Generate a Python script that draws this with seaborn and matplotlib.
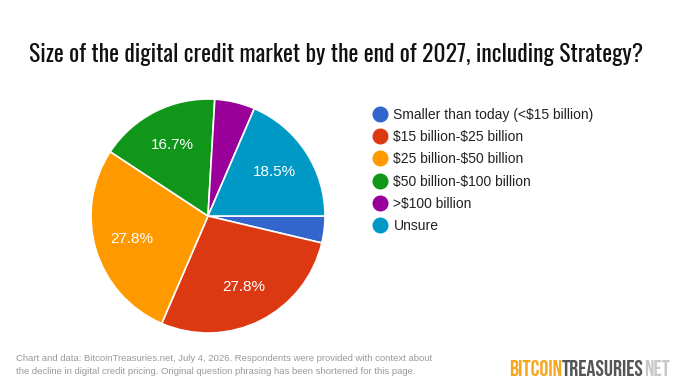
import matplotlib
matplotlib.use("Agg")
import matplotlib.pyplot as plt
from matplotlib.lines import Line2D
import seaborn as sns

# ==== DATA ====
categories = [
    "Smaller than today (<$15 billion)",
    "$15 billion-$25 billion",
    "$25 billion-$50 billion",
    "$50 billion-$100 billion",
    ">$100 billion",
    "Unsure",
]
responses = [2, 15, 15, 9, 3, 10]
palette = ["#3366cc", "#dc3912", "#ff9900", "#109618", "#990099", "#0099c6"]

title = "Size of the digital credit market by the end of 2027, including Strategy?"
footer = ("Chart and data: BitcoinTreasuries.net, July 4, 2026. Respondents were provided with context about\n"
          "the decline in digital credit pricing. Original question phrasing has been shortened for this page.")

# ==== STYLE ====
sns.set_theme(style="white")
plt.rcParams["font.family"] = ["Liberation Sans", "DejaVu Sans"]
plt.rcParams["text.parse_math"] = False
colors = sns.color_palette(palette)

W, H = 680, 383
fig = plt.figure(figsize=(W / 100, H / 100), dpi=100)
fig.patch.set_facecolor("white")

# ==== PIE ====
cx, cy, r = 208, 216, 117
ax = fig.add_axes([(cx - r) / W, (H - cy - r) / H, 2 * r / W, 2 * r / H])

def pct_label(p):
    return f"{p:.1f}%" if p >= 10 else ""

wedges, texts, autotexts = ax.pie(
    responses, colors=colors, startangle=0, counterclock=False,
    autopct=pct_label, pctdistance=0.68,
    wedgeprops=dict(edgecolor="white", linewidth=1.2),
    textprops=dict(color="white", fontsize=11),
)
ax.set_xlim(-1, 1)
ax.set_ylim(-1, 1)
ax.set_aspect("equal")
ax.axis("off")

# ==== LEGEND ====
handles = [Line2D([0], [0], marker="o", linestyle="", markersize=10.5,
                  markerfacecolor=c, markeredgecolor=c) for c in colors]
fig.legend(handles, categories, loc="upper left",
           bbox_to_anchor=(367 / W, 1 - 102 / H), frameon=False,
           fontsize=10, handletextpad=0.5, labelspacing=0.6,
           handlelength=1.0, borderaxespad=0, labelcolor="#222222")

# ==== TITLE ====
fig.text(336 / W, 1 - 54 / H, title, ha="center", va="center",
         fontsize=17, family=["Oswald", "DejaVu Sans"], color="#111111")

# ==== FOOTER ====
fig.text(16 / W, 1 - 365 / H, footer, ha="left", va="center",
         fontsize=6.8, color="#999999", linespacing=1.5)

# ==== LOGO ====
fig.canvas.draw()
renderer = fig.canvas.get_renderer()
x = 509
logo_parts = [("BITCOIN", "#f6a71d", "bold"),
              ("TREASURIES", "#555555", "bold"),
              ("NET", "#c8c8c8", "light")]
for txt, col, wt in logo_parts:
    t = fig.text(x / W, 1 - 376 / H, txt, ha="left", va="baseline", fontsize=16.3,
                 weight=wt, color=col, family=["Bebas Neue", "Oswald", "DejaVu Sans"])
    x = t.get_window_extent(renderer).x1

fig.savefig("out.png", dpi=100, facecolor="white")
